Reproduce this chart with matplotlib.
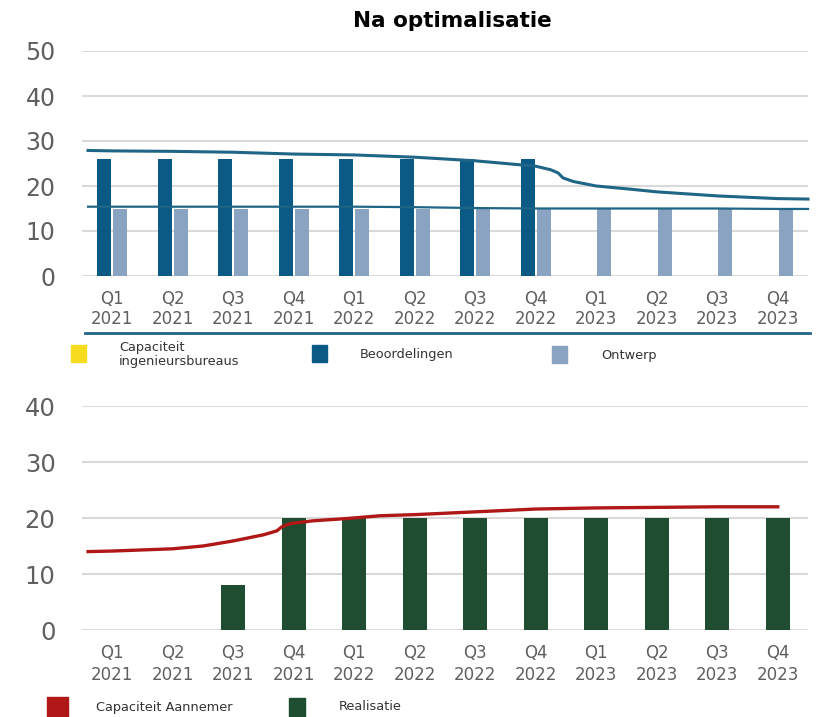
import matplotlib
matplotlib.use("Agg")
import matplotlib.pyplot as plt
from matplotlib.patches import Rectangle
from matplotlib.lines import Line2D

# ---------------- data ----------------
quarters = ["Q1\n2021", "Q2\n2021", "Q3\n2021", "Q4\n2021",
            "Q1\n2022", "Q2\n2022", "Q3\n2022", "Q4\n2022",
            "Q1\n2023", "Q2\n2023", "Q3\n2023", "Q4\n2023"]

beoordelingen = [26, 26, 26, 26, 26, 26, 26, 26, 0, 0, 0, 0]
ontwerp = [15, 15, 15, 15, 15, 15, 15, 15, 15, 15, 15, 15]

# capacity lines (position in quarter index, value)
cap_upper_x = [-0.4, 0, 1, 2, 3, 4, 5, 6, 7, 7.25, 7.37, 7.45, 7.62, 8, 8.56, 9, 10, 11, 11.5]
cap_upper_y = [27.9, 27.8, 27.7, 27.5, 27.1, 26.9, 26.4, 25.6, 24.4, 23.6, 22.9, 21.8, 21.0, 20.0, 19.3, 18.7, 17.8, 17.2, 17.1]
cap_lower_x = [-0.4, 0, 1, 2, 3, 4, 5, 6, 7, 8, 9, 10, 11, 11.5]
cap_lower_y = [15.4, 15.4, 15.4, 15.4, 15.4, 15.4, 15.3, 15.1, 15.0, 15.0, 15.0, 15.0, 14.9, 14.9]

realisatie = [0, 0, 8, 20, 20, 20, 20, 20, 20, 20, 20, 20]
aannemer_x = [-0.4, 0, 1, 1.5, 2, 2.5, 2.72, 2.8, 2.94, 3.32, 3.87, 4.43, 5, 6, 7, 8, 9, 10, 11]
aannemer_y = [14.0, 14.1, 14.5, 15.0, 15.9, 17.0, 17.7, 18.4, 19.0, 19.5, 19.9, 20.4, 20.6, 21.1, 21.6, 21.8, 21.9, 22.0, 22.0]

# ---------------- style ----------------
DARK = "#0b5a86"
LIGHT = "#8aa3c0"
LINE = "#1f6585"
GREEN = "#1f4d32"
RED = "#b01818"
YELLOW = "#f5dc1e"
GRID = "#d9d9d9"
TXT = "#5f5f5f"

W, H = 819, 717
fig = plt.figure(figsize=(W / 100, H / 100), dpi=100)

def fx(px):
    return px / W

def fy(py):
    return 1 - py / H

x = list(range(len(quarters)))

def style(ax, ymax, step, ysize, lsp):
    ax.set_xlim(-0.5, len(quarters) - 0.5)
    ax.set_ylim(0, ymax)
    ax.set_yticks(range(0, ymax + 1, step))
    ax.yaxis.grid(True, color=GRID, linewidth=1.5)
    ax.set_axisbelow(True)
    for s in ax.spines.values():
        s.set_visible(False)
    ax.tick_params(axis="both", length=0, colors=TXT)
    ax.tick_params(axis="y", labelsize=ysize, pad=19)
    ax.tick_params(axis="x", labelsize=12, pad=10)
    ax.set_xticks(x)
    ax.set_xticklabels(quarters, linespacing=lsp)

# ---- top chart ----
ax1 = fig.add_axes([fx(82), fy(276), fx(726), (276 - 51) / H])
style(ax1, 50, 10, 17, 1.15)
ax1.bar([i - 0.135 for i in x], beoordelingen, width=0.23, color=DARK, zorder=2)
ax1.bar([i + 0.135 for i in x], ontwerp, width=0.23, color=LIGHT, zorder=2)
ax1.plot(cap_upper_x, cap_upper_y, color=LINE, linewidth=2.2, zorder=3, clip_on=False)
ax1.plot(cap_lower_x, cap_lower_y, color=LINE, linewidth=1.6, zorder=3, clip_on=False)
fig.text(fx(452), fy(21), "Na optimalisatie", ha="center", va="center",
         fontsize=15.5, fontweight="bold", color="black")

# separator line
fig.add_artist(Line2D([fx(85), fx(810)], [fy(333), fy(333)], color=LINE, linewidth=2))

# legend items
def legend_item(x0, y0, w, h, color, label, tx, ty):
    fig.add_artist(Rectangle((fx(x0), fy(y0 + h)), w / W, h / H, color=color,
                             transform=fig.transFigure))
    fig.text(fx(tx), fy(ty), label, ha="left", va="center", fontsize=9.3,
             color="#333333", linespacing=1.1)

legend_item(71, 345, 15, 17, YELLOW, "Capaciteit\ningenieursbureaus", 119, 355)
legend_item(312, 345, 15, 17, DARK, "Beoordelingen", 360, 354)
legend_item(552, 346, 15, 17, LIGHT, "Ontwerp", 601, 356)

# ---- bottom chart ----
ax2 = fig.add_axes([fx(82), fy(630), fx(726), (630 - 406) / H])
style(ax2, 40, 10, 17.5, 1.3)
ax2.bar(x, realisatie, width=0.4, color=GREEN, zorder=2)
ax2.plot(aannemer_x, aannemer_y, color=RED, linewidth=2.4, zorder=3, clip_on=False)

legend_item(47, 697, 21, 22, RED, "Capaciteit Aannemer", 96, 707)
legend_item(289, 698, 16, 19, GREEN, "Realisatie", 339, 707)

fig.savefig("out.png", dpi=100)
